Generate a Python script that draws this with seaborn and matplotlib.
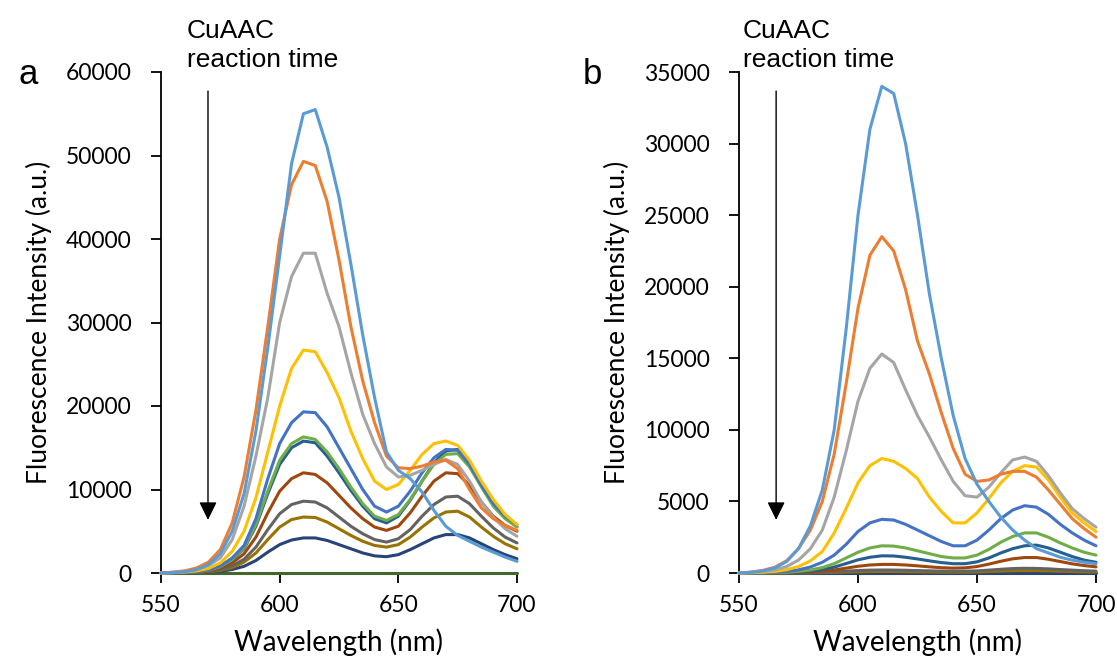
"""Fluorescence spectra during CuAAC reaction, two panels (a, b)."""

import matplotlib
matplotlib.use("Agg")
import matplotlib.pyplot as plt
import pandas as pd
import seaborn as sns

# wavelength grid (nm)
WAVELENGTH = [550, 555, 560, 565, 570, 575, 580, 585, 590, 595, 600, 605, 610, 615, 620, 625,
              630, 635, 640, 645, 650, 655, 660, 665, 670, 675, 680, 685, 690, 695, 700]

# panel a spectra (a.u.)
A_BLUE = [0, 50, 150, 400, 1000, 2300, 5000, 9500, 17000, 27000, 38000, 49000, 55000, 55500, 51000, 45000,
          37000, 28500, 21000, 14500, 12300, 11300, 9700, 7500, 5600, 4500, 3800, 3100, 2500, 1900, 1400]
A_ORANGE = [0, 100, 250, 600, 1300, 2800, 6000, 11500, 19500, 29500, 40000, 46500, 49300, 48800, 44500, 37500,
            29500, 23000, 18000, 14000, 12600, 12500, 12800, 13300, 13500, 12500, 10000, 7800, 6500, 5700, 5100]
A_GRAY = [0, 80, 200, 450, 900, 1800, 4000, 8000, 14000, 21000, 30000, 35500, 38300, 38300, 33500, 29500,
          24000, 19000, 15500, 12700, 11500, 11700, 12300, 13000, 13600, 13000, 11000, 8500, 6700, 5300, 4400]
A_GOLD = [0, 50, 120, 250, 550, 1200, 2600, 5000, 9000, 14500, 20000, 24500, 26700, 26500, 24000, 21000,
          17000, 13700, 11000, 10000, 10600, 12300, 14200, 15500, 15800, 15300, 13500, 11000, 8800, 7000, 5800]
A_BLUE2 = [0, 30, 80, 180, 400, 850, 1800, 3300, 6500, 11300, 15500, 18000, 19300, 19200, 17500, 15000,
           12500, 10000, 8000, 7300, 8000, 9800, 12000, 13800, 14800, 14700, 13000, 10500, 8300, 6800, 5800]
A_GREEN = [0, 30, 70, 160, 350, 750, 1600, 3000, 5800, 9800, 13500, 15500, 16300, 16000, 14500, 12500,
           10300, 8300, 6800, 6300, 7000, 8800, 11000, 13000, 14200, 14300, 12700, 10300, 8000, 6500, 5500]
A_TEAL = [0, 30, 70, 160, 340, 730, 1550, 2900, 5600, 9500, 13000, 15000, 15800, 15600, 14000, 12000,
          9900, 8000, 6500, 6000, 6800, 8700, 11000, 13200, 14600, 14800, 13200, 10700, 8300, 6700, 5600]
A_BROWN = [0, 20, 50, 120, 260, 560, 1200, 2300, 4300, 7200, 9800, 11300, 12000, 11800, 10800, 9300,
           7800, 6500, 5500, 5100, 5600, 7200, 9200, 11000, 12000, 11900, 10500, 8500, 6800, 5700, 5000]
A_DKGRAY = [0, 15, 40, 90, 190, 400, 850, 1650, 3100, 5200, 7100, 8200, 8600, 8500, 7800, 6700,
            5600, 4700, 4000, 3700, 4100, 5200, 6800, 8200, 9100, 9200, 8300, 6800, 5400, 4300, 3600]
A_OLIVE = [0, 12, 30, 70, 150, 310, 650, 1300, 2400, 4000, 5500, 6400, 6700, 6650, 6100, 5300,
           4500, 3800, 3300, 3100, 3400, 4300, 5500, 6600, 7300, 7400, 6700, 5500, 4400, 3500, 2900]
A_NAVY = [0, 8, 20, 45, 95, 200, 420, 800, 1500, 2500, 3400, 3950, 4200, 4200, 3900, 3400,
          2900, 2400, 2050, 1950, 2200, 2800, 3500, 4200, 4600, 4600, 4200, 3500, 2800, 2200, 1700]
A_DKGREEN = [0, 0, 0, 0, 0, 0, 0, 0, 0, 0, 0, 0, 0, 0, 0, 0,
             0, 0, 0, 0, 0, 0, 0, 0, 0, 0, 0, 0, 0, 0, 0]

# panel b spectra (a.u.)
B_BLUE = [0, 50, 150, 350, 800, 1700, 3300, 5800, 10000, 17000, 25000, 31000, 34000, 33500, 30000, 25000,
          19500, 15000, 11000, 8000, 6200, 5000, 3900, 3000, 2300, 1700, 1400, 1100, 900, 750, 650]
B_ORANGE = [0, 60, 180, 400, 850, 1700, 3000, 5000, 8300, 13200, 18500, 22200, 23500, 22500, 19800, 16200,
            13900, 11200, 8700, 6900, 6400, 6500, 6900, 7100, 7100, 6700, 5800, 4800, 3800, 3100, 2500]
B_GRAY = [0, 40, 100, 220, 450, 900, 1700, 3000, 5300, 8500, 12000, 14300, 15300, 14700, 12800, 11000,
          9500, 7900, 6400, 5400, 5300, 6000, 7000, 7900, 8100, 7800, 6800, 5600, 4500, 3800, 3200]
B_GOLD = [0, 20, 50, 110, 230, 450, 850, 1500, 2800, 4500, 6300, 7500, 8000, 7800, 7300, 6600,
          5300, 4300, 3500, 3500, 4200, 5200, 6300, 7100, 7500, 7400, 6500, 5300, 4200, 3500, 2900]
B_BLUE2 = [0, 10, 25, 55, 110, 220, 420, 750, 1250, 2000, 2900, 3500, 3750, 3700, 3400, 3000,
           2600, 2200, 1900, 1900, 2300, 3000, 3800, 4400, 4700, 4600, 4100, 3400, 2800, 2300, 1900]
B_GREEN = [0, 5, 12, 25, 55, 110, 210, 380, 650, 1050, 1450, 1750, 1900, 1880, 1750, 1550,
           1350, 1150, 1050, 1050, 1250, 1650, 2150, 2550, 2800, 2800, 2500, 2100, 1750, 1450, 1250]
B_TEAL = [0, 3, 8, 16, 35, 70, 130, 240, 410, 660, 920, 1100, 1200, 1190, 1100, 980,
          850, 730, 650, 650, 780, 1050, 1400, 1700, 1900, 1950, 1750, 1450, 1150, 900, 750]
B_BROWN = [0, 2, 4, 8, 17, 35, 65, 120, 210, 340, 470, 560, 600, 600, 560, 500,
           430, 370, 340, 360, 450, 620, 820, 990, 1080, 1080, 960, 800, 640, 520, 430]
B_DKGRAY = [0, 1, 2, 4, 8, 15, 28, 50, 85, 130, 175, 200, 210, 205, 190, 170,
            150, 130, 120, 125, 150, 200, 260, 310, 330, 320, 290, 240, 200, 160, 130]
B_OLIVE = [0, 0, 1, 2, 4, 8, 14, 25, 42, 65, 88, 100, 105, 102, 95, 85,
           75, 65, 60, 62, 75, 100, 130, 155, 165, 160, 145, 120, 100, 80, 65]
B_NAVY = [0, 0, 0, 0, 0, 0, 0, 0, 0, 0, 0, 0, 0, 0, 0, 0,
          0, 0, 0, 0, 0, 0, 0, 0, 0, 0, 0, 0, 0, 0, 0]

COLORS = {
    "blue": "#5B9BD5", "orange": "#ED7D31", "gray": "#A5A5A5", "gold": "#FFC000",
    "blue2": "#4472C4", "green": "#70AD47", "teal": "#255E91", "brown": "#9E480E",
    "dkgray": "#636363", "olive": "#997300", "navy": "#264478", "dkgreen": "#43682B",
}

PANEL_A = {
    "dkgreen": A_DKGREEN, "navy": A_NAVY, "olive": A_OLIVE, "dkgray": A_DKGRAY, "brown": A_BROWN,
    "teal": A_TEAL, "green": A_GREEN, "blue2": A_BLUE2, "gold": A_GOLD, "gray": A_GRAY,
    "orange": A_ORANGE, "blue": A_BLUE,
}
PANEL_B = {
    "navy": B_NAVY, "olive": B_OLIVE, "dkgray": B_DKGRAY, "brown": B_BROWN, "teal": B_TEAL,
    "green": B_GREEN, "blue2": B_BLUE2, "gold": B_GOLD, "gray": B_GRAY, "orange": B_ORANGE,
    "blue": B_BLUE,
}

W, H = 1117, 663
TICK_FONT = "Lato"


def to_long(panel: dict) -> pd.DataFrame:
    frames = [pd.DataFrame({"wl": WAVELENGTH, "val": vals, "series": name}) for name, vals in panel.items()]
    return pd.concat(frames, ignore_index=True)


def draw_panel(ax, panel, ymax, ystep, arrow_x):
    data = to_long(panel)
    sns.lineplot(data=data, x="wl", y="val", hue="series", palette=COLORS, estimator=None,
                 linewidth=2.2, legend=False, ax=ax, zorder=3)
    for line in ax.lines:
        line.set_clip_on(False)
        line.set_solid_joinstyle("round")
    ax.set_xlim(550, 700)
    ax.set_ylim(0, ymax)
    ax.set_xticks([550, 600, 650, 700])
    ax.set_yticks(range(0, ymax + 1, ystep))
    ax.set_xlabel("Wavelength (nm)", fontsize=20, family=TICK_FONT, labelpad=9)
    ax.set_ylabel("Fluorescence Intensity (a.u.)", fontsize=19, family=TICK_FONT, labelpad=10)
    ax.tick_params(axis="both", direction="out", length=7, width=1.3, labelsize=16.5,
                   color="black", labelcolor="black")
    ax.tick_params(axis="y", pad=14)
    ax.tick_params(axis="x", pad=9)
    for lab in ax.get_xticklabels() + ax.get_yticklabels():
        lab.set_family(TICK_FONT)
    sns.despine(ax=ax)
    for side in ("left", "bottom"):
        ax.spines[side].set_linewidth(1.3)
        ax.spines[side].set_color("black")
        ax.spines[side].set_zorder(1)
    ax.grid(False)
    ax.annotate("", xy=(arrow_x, 0.106), xytext=(arrow_x, 0.962), xycoords="axes fraction",
                arrowprops=dict(arrowstyle="-|>,head_length=0.55,head_width=0.27", mutation_scale=20,
                                color="black", lw=1.0, shrinkA=0, shrinkB=0))


sns.set_theme(style="ticks")
plt.rcParams["font.family"] = ["Liberation Sans", "DejaVu Sans"]
plt.rcParams["text.color"] = "black"
plt.rcParams["axes.labelcolor"] = "black"

fig = plt.figure(figsize=(W / 100, H / 100), dpi=100)
ax_a = fig.add_axes([161 / W, 1 - 573 / H, (517 - 161) / W, (573 - 72) / H])
ax_b = fig.add_axes([739 / W, 1 - 573 / H, (1096 - 739) / W, (573 - 72) / H])

draw_panel(ax_a, PANEL_A, 60000, 10000, 0.132)
draw_panel(ax_b, PANEL_B, 35000, 5000, 0.104)

fig.text(18 / W, 1 - 84 / H, "a", fontsize=25, ha="left", va="baseline")
fig.text(583 / W, 1 - 84 / H, "b", fontsize=25, ha="left", va="baseline")
fig.text(187 / W, 1 - 38 / H, "CuAAC", fontsize=19, ha="left", va="baseline")
fig.text(187 / W, 1 - 67 / H, "reaction time", fontsize=19, ha="left", va="baseline")
fig.text(743 / W, 1 - 38 / H, "CuAAC", fontsize=19, ha="left", va="baseline")
fig.text(743 / W, 1 - 67 / H, "reaction time", fontsize=19, ha="left", va="baseline")

fig.savefig("out.png", dpi=100, facecolor="white")
